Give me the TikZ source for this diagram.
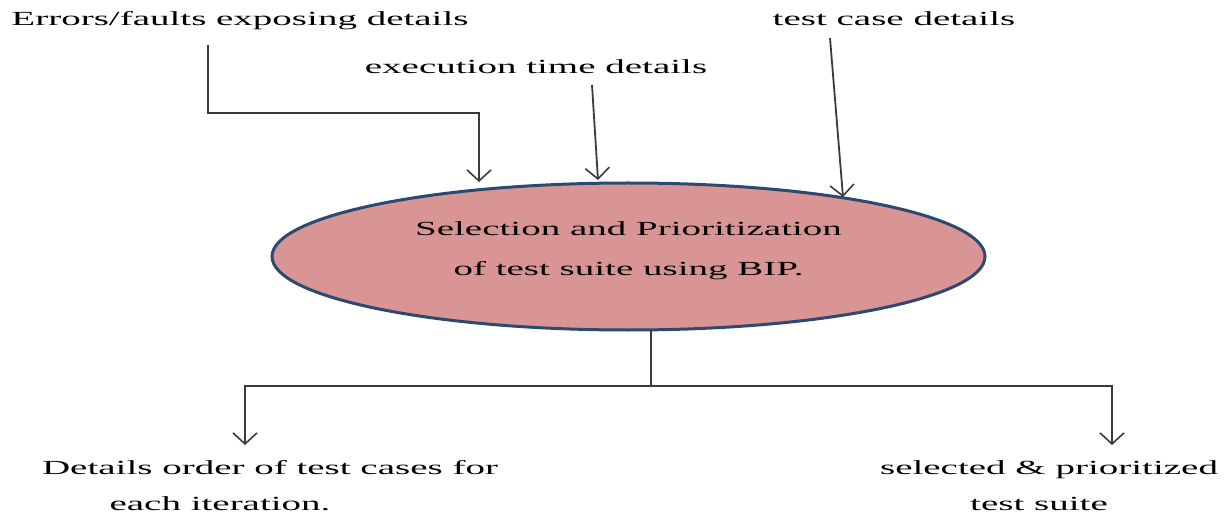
\documentclass[tikz,border=0pt]{standalone}
\usepackage{fontspec}
\setmainfont[FakeStretch=1.95]{Liberation Serif}
\usetikzlibrary{shapes.geometric,arrows.meta}
\definecolor{ellfill}{HTML}{D99494}
\definecolor{elldraw}{HTML}{2C4A70}
\definecolor{linegray}{HTML}{3A3A3A}
\begin{document}
\begin{tikzpicture}[x=0.5pt,y=-0.5pt,
  lbl/.style={font=\fontsize{10}{12}\selectfont, inner sep=0pt, anchor=base},
  conn/.style={draw=linegray, line width=0.9pt},
  arr/.style={conn, -{Straight Barb[length=5.5pt,width=12pt,line width=0.8pt]}},
  bipshape/.style={ellipse, draw=elldraw, line width=1.5pt, fill=ellfill,
    minimum width=356.5pt, minimum height=73.5pt, inner sep=0pt, align=center,
    text depth=8pt, font=\fontsize{10}{20}\selectfont}]
\useasboundingbox (0,0) rectangle (1231,513);
% labels
\node[lbl] (err) at (240,26) {Errors/faults exposing details};
\node[lbl] (exe) at (536,74) {execution time details};
\node[lbl] (tcd) at (894,26) {test case details};
\node[bipshape] (bip) at (628.5,256.5) {Selection and Prioritization\\of test suite using BIP.};
\node[lbl] (ord1) at (270,474) {Details order of test cases for};
\node[lbl] (ord2) at (220,510) {each iteration.};
\node[lbl] (sel1) at (1049,474) {selected \& prioritized};
\node[lbl] (sel2) at (1039,510) {test suite};
% connector points
\coordinate (e0) at (208,45);
\coordinate (e1) at (208,113);
\coordinate (e2) at (479,113);
\coordinate (e3) at (479,182);
\coordinate (x0) at (592,85);
\coordinate (x1) at (598,180);
\coordinate (t0) at (830,38);
\coordinate (t1) at (843,197);
\coordinate (s0) at (651,330);
\coordinate (b0) at (651,386);
\coordinate (l1) at (245,386);
\coordinate (l2) at (245,445);
\coordinate (r1) at (1112,386);
\coordinate (r2) at (1112,445);
% connectors
\draw[arr] (e0) -- (e1) -- (e2) -- (e3);
\draw[arr] (x0) -- (x1);
\draw[arr] (t0) -- (t1);
\draw[conn] (s0) -- (b0);
\draw[arr] (b0) -- (l1) -- (l2);
\draw[arr] (b0) -- (r1) -- (r2);
\end{tikzpicture}
\end{document}
